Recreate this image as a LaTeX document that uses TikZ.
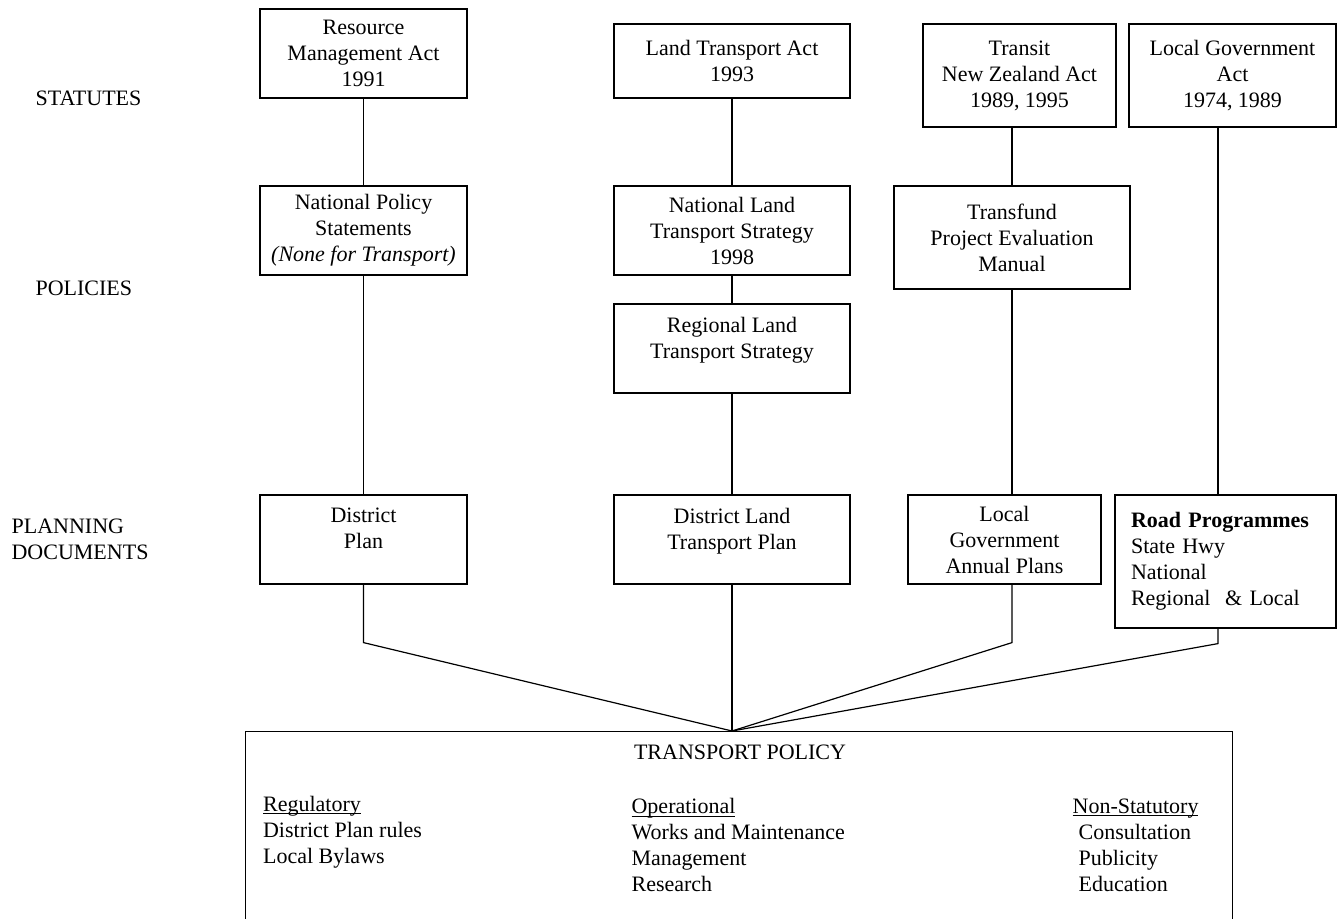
\documentclass[tikz,border=0pt]{standalone}
\usepackage{fontspec}
\setmainfont{Liberation Serif}
\usetikzlibrary{positioning}
\newcommand\ulword[1]{\setbox0=\hbox{#1}\rlap{\rule[-1.6pt]{\wd0}{0.5pt}}\box0}

\begin{document}
\begin{tikzpicture}[x=0.5pt,y=-0.5pt,line width=0.6pt,
    doc/.style={draw,align=center,inner sep=2pt,font=\fontsize{11}{13}\selectfont},
    lift/.style={text depth=11pt},
    tier/.style={anchor=west,align=left,inner sep=0pt,font=\fontsize{11}{13}\selectfont}]
        \useasboundingbox (0,0) rectangle (1337,919);
        % left side labels
        \node[tier] (statutes) at (35,98) {STATUTES};
        \node[tier] (policies) at (35,288) {POLICIES};
        \node[tier] (planning) at (11,539.5) {PLANNING\\DOCUMENTS};
        % statutes
        \node[doc,minimum width=103.5pt,minimum height=44.5pt] (rma) at (363.5,53.5) {Resource\\Management Act\\1991};
        \node[doc,minimum width=118pt,minimum height=37pt] (lta) at (732,61) {Land Transport Act\\1993};
        \node[doc,minimum width=96.5pt,minimum height=51.5pt] (tnz) at (1019.5,75.5) {Transit\\New Zealand Act\\1989, 1995};
        \node[doc,minimum width=103.5pt,minimum height=51.5pt] (lga) at (1232.5,75.5) {Local Government\\Act\\1974, 1989};
        % policies
        \node[doc,minimum width=103.5pt,minimum height=44.5pt] (nps) at (363.5,230.5) {National Policy\\Statements\\\textit{(None for Transport)}};
        \node[doc,minimum width=118pt,minimum height=44.5pt] (nlts) at (732,230.5) {National Land\\Transport Strategy\\1998};
        \node[doc,lift,minimum width=118pt,minimum height=44.5pt] (rlts) at (732,348.5) {Regional Land\\Transport Strategy};
        \node[doc,minimum width=118pt,minimum height=51.5pt] (tf) at (1012,237.5) {Transfund\\Project Evaluation\\Manual};
        % planning documents
        \node[doc,lift,minimum width=103.5pt,minimum height=44.5pt] (dp) at (363.5,539.5) {District\\Plan};
        \node[doc,lift,minimum width=118pt,minimum height=44.5pt] (dltp) at (732,539.5) {District Land\\Transport Plan};
        \node[doc,minimum width=96.5pt,minimum height=44.5pt] (lgap) at (1004.5,539.5) {Local\\Government\\Annual Plans};
        \node[doc,align=left,text width=94.5pt,inner xsep=8pt,minimum height=66.5pt] (roadp) at (1225.5,561.5) {\textbf{Road Programmes}\\State Hwy\\National\\Regional \ \& Local};
        % transport policy
        \node[draw,anchor=north,minimum width=493.5pt,minimum height=110pt] (tp) at (739,731) {};
        \node[inner sep=0pt,anchor=base,font=\fontsize{11}{13}\selectfont] (tptitle) at (740,759) {TRANSPORT POLICY};
        \node[tier] (regul) at (262.5,832) {\ulword{Regulatory}\\District Plan rules\\Local Bylaws};
        \node[tier] (operat) at (631,845) {\ulword{Operational}\\Works and Maintenance\\Management\\Research};
        \node[tier] (nonstat) at (1072,845) {\ulword{Non-Statutory}\\\hspace{3pt}Consultation\\\hspace{3pt}Publicity\\\hspace{3pt}Education};
        % links
        \coordinate (rpx) at (1218,0);
        \coordinate (hub) at (dltp.south |- tp.north);
        \draw (rma) -- (nps);
        \draw (nps) -- (dp);
        \draw (lta) -- (nlts);
        \draw (nlts) -- (rlts);
        \draw (rlts) -- (dltp);
        \draw (tnz.south -| tf.north) -- (tf.north);
        \draw (tf.south) -- (tf.south |- lgap.north);
        \draw (lga.south -| rpx) -- (roadp.north -| rpx);
        \draw (dp.south) -- ++(0,58) -- (hub);
        \draw (dltp.south) -- (hub);
        \draw (tf.south |- lgap.south) -- ++(0,58) -- (hub);
        \draw (roadp.south -| rpx) -- ++(0,15) -- (hub);
    \end{tikzpicture}
\end{document}
